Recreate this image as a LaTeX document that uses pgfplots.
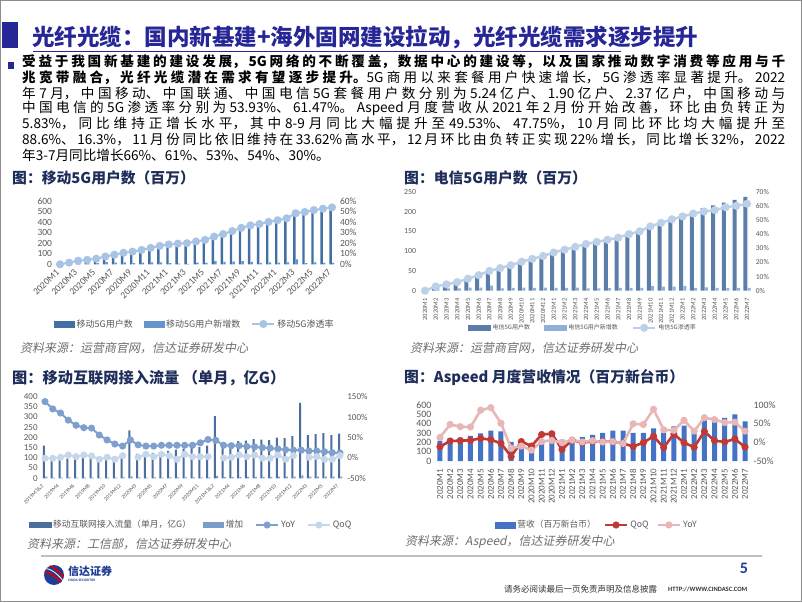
\documentclass[border=0pt]{standalone}
\usepackage{pgfplots}
\usepackage{pgfplotstable}
\pgfplotsset{compat=1.18}
\usepackage{fontspec}
\setmainfont{Carlito}
\newfontfamily\cjk{Noto Sans CJK SC}
\newfontfamily\cjkit[FakeSlant=0.2]{Noto Sans CJK SC}
\definecolor{navyT}{RGB}{38,38,150}
\definecolor{ftitle}{RGB}{30,45,90}
\definecolor{tickgray}{RGB}{89,89,89}
\definecolor{srcgray}{RGB}{110,110,110}
\definecolor{aDark}{RGB}{66,112,164}
\definecolor{aLight}{RGB}{100,150,205}
\definecolor{aLine}{RGB}{168,195,228}
\definecolor{bDark}{RGB}{90,126,168}
\definecolor{bLight}{RGB}{143,176,216}
\definecolor{bLine}{RGB}{188,208,234}
\definecolor{cDark}{RGB}{75,110,158}
\definecolor{cLight}{RGB}{123,156,201}
\definecolor{cYoY}{RGB}{127,160,207}
\definecolor{cQoQ}{RGB}{198,214,235}
\definecolor{dBar}{RGB}{68,114,196}
\definecolor{dQoQ}{RGB}{192,57,53}
\definecolor{dYoY}{RGB}{232,182,182}
\definecolor{logoblue}{RGB}{30,60,150}

\pgfplotsset{
  base/.style={scale only axis, axis line style={draw=none}, tick style={draw=none},
    ticklabel style={text=tickgray}, clip=false, enlargelimits=false,
    /pgf/number format/assume math mode=true},
  linelegend/.style={legend image code/.code={\draw[mark repeat=2,mark phase=2,##1] plot coordinates {(0pt,0pt) (11pt,0pt) (22pt,0pt)};}},
  barleg/.style n args={3}{legend image code/.code={\fill[#1] (0pt,-#3) rectangle (#2,#3);}},
}

\pgfplotstableread{
u n p
0 0 0
15.4 15.4 1.6
31.7 16.3 3.4
39.4 7.7 4.2
49.8 10.4 5.3
70.2 20.4 7.4
85.6 15.4 9.1
103.4 17.8 10.9
113.6 10.2 12.0
129.1 15.5 13.6
147.4 18.3 15.6
165.4 18.0 17.5
177.6 12.2 18.8
185.0 7.4 19.6
189.3 4.3 20.0
205.9 16.6 21.6
220.4 14.5 23.1
250.9 30.5 26.3
274.6 23.7 28.7
300.8 26.2 31.5
331.0 30.2 34.5
354.4 23.4 36.9
367.7 13.3 38.2
386.8 19.1 40.2
403.3 16.5 41.8
420.8 17.5 43.6
467.3 46.5 48.4
479.5 12.2 49.6
498.1 18.6 51.4
511.0 12.9 52.7
524.0 13.0 53.9
}\mobile

\pgfplotstableread{
u n p
0 0 0
10.7 10.7 3.0
16.6 5.9 4.5
22.3 5.7 6.0
30.3 8.0 8.5
37.8 7.5 11.0
50.5 12.7 14.0
56.5 6.0 16.0
63.6 7.1 18.0
71.5 7.9 20.5
78.6 7.1 22.5
86.5 7.9 24.5
93.6 7.1 27.0
100.6 7.0 29.0
108.5 7.9 31.0
114.6 6.1 33.0
120.7 6.1 34.5
127.3 6.6 36.0
134.2 6.9 37.5
141.6 7.4 40.0
148.5 6.9 42.0
160.5 12.0 45.5
170.5 10.0 48.0
180.5 10.0 50.5
192.6 12.1 52.5
200.0 7.4 54.5
208.6 8.6 56.0
215.5 6.9 57.0
222.6 7.1 59.0
229.5 6.9 60.0
236.8 7.3 61.5
}\telecom

\pgfplotstableread{
t inc yoy qoq
160 8 138 -1
90 3 120 -1
93 3 110 1.4
97 4 92.5 7
99 3 80 3
101 3 74 7
103 3 73 4.7
101 2 56 -3.5
104 3 44 1.4
106 3 34 -3.5
112 5 29 5.5
235 10 44 nan
120 4 32 1.4
118 3 29 8.8
125 4 29 3
127 3 31 8.8
135 4 31 5.5
140 4 31 -3.5
145 4 31 8.8
148 4 31 3
153 4 37 3
160 5 45 3
305 12 43 nan
160 6 31 0
165 6 30 1.4
182 7 30 7
185 7 28 3
192 7 27 7
190 7 25 -1
187 7 24 -1
200 8 22 7
197 8 20 -3.5
207 8 19 5.5
370 14 19 nan
212 8 17 1.4
216 8 17 3
221 8 15 -3.5
212 8 13 -3.5
219 8 12 5.5
}\traffic

\pgfplotstableread{
r q y
215 -11.6 13
240 3.6 48
250 4.5 42
270 5.4 41
297 10.7 86
325 7 93
318 -2.7 51
205 -38 -16
210 2 -10
190 -10 -21
232 21 2
285 23 5
230 -19 -1
243 5.8 6
255 -1 1
280 3 4.5
300 2 1
325 2 2
325 -3 -3
300 -11 49.5
300 -1 47.8
350 16.3 88.6
305 -14 33.6
370 22 32
380 -1 59
300 -13 30
445 29 66
420 4.5 61
462 1 53
500 9 54
425 -12.5 30
}\aspeed

\newcommand{\bodyline}[2]{\node[anchor=west,inner sep=0pt] at (22,#1) {\parbox{763pt}{\cjk\fontsize{13.6}{15}\selectfont\XeTeXlinebreaklocale "zh"\XeTeXlinebreakskip=0pt plus 10pt\parfillskip=0pt\relax #2\par}};}
\newcommand{\months}{2020M1,2020M2,2020M3,2020M4,2020M5,2020M6,2020M7,2020M8,2020M9,2020M10,2020M11,2020M12,2021M1,2021M2,2021M3,2021M4,2021M5,2021M6,2021M7,2021M8,2021M9,2021M10,2021M11,2021M12,2022M1,2022M2,2022M3,2022M4,2022M5,2022M6,2022M7}

\begin{document}
\begin{tikzpicture}[x=1pt,y=1pt]
\useasboundingbox (0,0) rectangle (802,602);
\fill[white] (0,0) rectangle (802,602);
\draw[black!45, line width=1.2pt] (0.6,0.6) rectangle (801.4,601.4);

% header
\fill[navyT] (2,554) rectangle (18,580);
\node[anchor=west,inner sep=0pt,text=navyT] at (32,565) {\cjk\bfseries\fontsize{22.5}{24}\selectfont 光纤光缆：国内新基建+海外固网建设拉动，光纤光缆需求逐步提升};
\draw[navyT, line width=0.8pt] (33,551) -- (621,551);
\fill[navyT] (8,533) rectangle (14,540);
\bodyline{540}{\bfseries 受益于我国新基建的建设发展，5G网络的不断覆盖，数据中心的建设等，以及国家推动数字消费等应用与千}
\bodyline{524.5}{{\bfseries 兆宽带融合，光纤光缆潜在需求有望逐步提升。}5G商用以来套餐用户快速增长，5G渗透率显著提升。 2022}
\bodyline{509}{年7月，中国移动、中国联通、中国电信5G套餐用户数分别为5.24亿户、1.90亿户、2.37亿户，中国移动与}
\bodyline{493.5}{中国电信的5G渗透率分别为53.93\%、61.47\%。 Aspeed 月度营收从2021年2月份开始改善，环比由负转正为}
\bodyline{478}{5.83\%，同比维持正增长水平，其中8-9月同比大幅提升至49.53\%、47.75\%，10月同比环比均大幅提升至}
\bodyline{462.5}{88.6\%、16.3\%，11月份同比依旧维持在33.62\%高水平，12月环比由负转正实现22\%增长，同比增长32\%，2022}
\node[anchor=west,inner sep=0pt] at (22,447) {\cjk\fontsize{13.6}{15}\selectfont 年3-7月同比增长66\%、61\%、53\%、54\%、30\%。};

% chart titles and sources
\node[anchor=west,inner sep=0pt,text=ftitle] at (12,424) {\cjk\bfseries\fontsize{14.8}{16}\selectfont 图：移动5G用户数（百万）};
\node[anchor=west,inner sep=0pt,text=ftitle] at (404,424) {\cjk\bfseries\fontsize{14.8}{16}\selectfont 图：电信5G用户数（百万）};
\node[anchor=west,inner sep=0pt,text=ftitle] at (12,224) {\cjk\bfseries\fontsize{15.2}{16}\selectfont 图：移动互联网接入流量 （单月，亿G）};
\node[anchor=west,inner sep=0pt,text=ftitle] at (404,224) {\cjk\bfseries\fontsize{14.8}{16}\selectfont 图：Aspeed 月度营收情况（百万新台币）};
\node[anchor=west,inner sep=0pt,text=srcgray] at (20,254) {\cjkit\fontsize{12}{13}\selectfont 资料来源：运营商官网，信达证券研发中心};
\node[anchor=west,inner sep=0pt,text=srcgray] at (410,254) {\cjkit\fontsize{12}{13}\selectfont 资料来源：运营商官网，信达证券研发中心};
\node[anchor=west,inner sep=0pt,text=srcgray] at (27,58) {\cjkit\fontsize{12}{13}\selectfont 资料来源：工信部，信达证券研发中心};
\node[anchor=west,inner sep=0pt,text=srcgray] at (405,60) {\cjkit\fontsize{12}{13}\selectfont 资料来源：Aspeed，信达证券研发中心};

% ---------- chart 1 ----------
\begin{axis}[base, at={(55.5pt,337.7pt)}, anchor=south west, width=281pt, height=63.3pt,
  xmin=-0.5, xmax=30.5, ymin=0, ymax=600, ybar, bar width=2.4pt,
  ytick={0,100,200,300,400,500,600}, yticklabels={0,100,200,300,400,500,600},
  yticklabel style={font=\fontsize{9.5}{10}\selectfont},
  xtick={0,2,...,30},
  xticklabels={2020M1,2020M3,2020M5,2020M7,2020M9,2020M11,2021M1,2021M3,2021M5,2021M7,2021M9,2021M11,2022M1,2022M3,2022M5,2022M7},
  xticklabel style={rotate=45, anchor=east, font=\fontsize{9.5}{10}\selectfont}]
\addplot[fill=aDark, draw=none, bar shift=-1.3pt] table[x expr=\coordindex, y=u] {\mobile};
\addplot[fill=aLight, draw=none, bar shift=1.3pt] table[x expr=\coordindex, y=n] {\mobile};
\end{axis}
\begin{axis}[base, at={(55.5pt,337.7pt)}, anchor=south west, width=281pt, height=63.3pt,
  xmin=-0.5, xmax=30.5, ymin=0, ymax=60, xtick=\empty, yticklabel pos=right,
  ytick={0,10,20,30,40,50,60}, yticklabels={0\%,10\%,20\%,30\%,40\%,50\%,60\%},
  yticklabel style={font=\fontsize{9.5}{10}\selectfont},
  legend columns=-1,
  legend style={at={(0.496,-0.943)}, anchor=center, draw=none, fill=none, inner sep=0pt,
    font=\cjk\fontsize{9}{10}\selectfont, text=tickgray,
    /tikz/every even column/.append style={column sep=9pt}}]
\addlegendimage{barleg={aDark}{20pt}{3pt}}
\addlegendentry{移动5G用户数}
\addlegendimage{barleg={aLight}{20pt}{3pt}}
\addlegendentry{移动5G用户新增数}
\addplot[aLine, line width=2pt, mark=*, mark size=3pt, mark options={fill=aLine, draw=aLine}, linelegend] table[x expr=\coordindex, y=p] {\mobile};
\addlegendentry{移动5G渗透率}
\end{axis}

% ---------- chart 2 ----------
\begin{axis}[base, at={(419.6pt,311.3pt)}, anchor=south west, width=332.8pt, height=99pt,
  xmin=-0.5, xmax=30.5, ymin=0, ymax=250, ybar,
  ytick={0,50,100,150,200,250}, yticklabels={0,50,100,150,200,250},
  yticklabel style={font=\fontsize{7.8}{8}\selectfont},
  xtick={0,...,30}, xticklabels/.expanded={\months},
  xticklabel style={rotate=90, anchor=east, font=\fontsize{6.5}{7}\selectfont}]
\addplot[fill=bDark, draw=none, bar width=4pt, bar shift=-1.6pt] table[x expr=\coordindex, y=u] {\telecom};
\addplot[fill=bLight, draw=none, bar width=3pt, bar shift=2.2pt] table[x expr=\coordindex, y=n] {\telecom};
\end{axis}
\begin{axis}[base, at={(419.6pt,311.3pt)}, anchor=south west, width=332.8pt, height=99pt,
  xmin=-0.5, xmax=30.5, ymin=0, ymax=70, xtick=\empty, yticklabel pos=right,
  ytick={0,10,20,30,40,50,60,70}, yticklabels={0\%,10\%,20\%,30\%,40\%,50\%,60\%,70\%},
  yticklabel style={font=\fontsize{7.5}{8}\selectfont},
  legend columns=-1,
  legend style={at={(0.491,-0.375)}, anchor=center, draw=none, fill=none, inner sep=0pt,
    font=\cjk\fontsize{6}{7}\selectfont, text=tickgray,
    /tikz/every even column/.append style={column sep=12pt}}]
\addlegendimage{barleg={bDark}{22pt}{2.5pt}}
\addlegendentry{电信5G用户数}
\addlegendimage{barleg={bLight}{22pt}{2.5pt}}
\addlegendentry{电信5G用户新增数}
\addplot[bLine, line width=2.4pt, mark=*, mark size=2.8pt, mark options={fill=bLine, draw=bLine}, linelegend] table[x expr=\coordindex, y=p] {\telecom};
\addlegendentry{电信5G渗透率}
\end{axis}

% ---------- chart 3 ----------
\begin{axis}[base, at={(41.1pt,123.7pt)}, anchor=south west, width=302.8pt, height=81.6pt,
  xmin=-0.5, xmax=38.5, ymin=0, ymax=400, ybar,
  ytick={0,50,100,150,200,250,300,350,400}, yticklabels={0,50,100,150,200,250,300,350,400},
  yticklabel style={font=\fontsize{9}{10}\selectfont},
  xtick={0,2,...,38},
  xticklabels={2019M1\&2,2019M4,2019M6,2019M8,2019M10,2019M12,2020M3,2020M5,2020M7,2020M9,2020M11,2021M1\&2,2021M4,2021M6,2021M8,2021M10,2021M12,2022M3,2022M5,2022M7},
  xticklabel style={rotate=45, anchor=east, font=\fontsize{5.5}{6}\selectfont}]
\addplot[fill=cDark, draw=none, bar width=2pt, bar shift=-1pt] table[x expr=\coordindex, y=t] {\traffic};
\addplot[fill=cLight, draw=none, bar width=2pt, bar shift=1.3pt] table[x expr=\coordindex, y=inc] {\traffic};
\end{axis}
\begin{axis}[base, at={(41.1pt,123.7pt)}, anchor=south west, width=302.8pt, height=81.6pt,
  xmin=-0.5, xmax=38.5, ymin=-50, ymax=150, xtick=\empty, yticklabel pos=right,
  ytick={-50,0,50,100,150}, yticklabels={-50\%,0\%,50\%,100\%,150\%},
  yticklabel style={font=\fontsize{9}{10}\selectfont},
  unbounded coords=jump,
  legend columns=-1,
  legend style={at={(0.495,-0.572)}, anchor=center, draw=none, fill=none, inner sep=0pt,
    font=\cjk\fontsize{8.8}{10}\selectfont, text=tickgray,
    /tikz/every even column/.append style={column sep=10pt}}]
\addlegendimage{barleg={cDark}{22pt}{2.5pt}}
\addlegendentry{移动互联网接入流量（单月，亿G）}
\addlegendimage{barleg={cLight}{20pt}{2.5pt}}
\addlegendentry{增加}
\addplot[cYoY, line width=2pt, mark=*, mark size=2.5pt, mark options={fill=cYoY, draw=cYoY}, linelegend] table[x expr=\coordindex, y=yoy] {\traffic};
\addlegendentry{YoY}
\addplot[cQoQ, line width=2pt, mark=*, mark size=2.5pt, mark options={fill=cQoQ, draw=cQoQ}, linelegend] table[x expr=\coordindex, y=qoq] {\traffic};
\addlegendentry{QoQ}
\end{axis}

% ---------- chart 4 ----------
\begin{axis}[base, at={(434.9pt,141pt)}, anchor=south west, width=315.2pt, height=56pt,
  xmin=-0.5, xmax=30.5, ymin=0, ymax=600, ybar,
  ytick={0,100,200,300,400,500,600}, yticklabels={0,100,200,300,400,500,600},
  yticklabel style={font=\fontsize{9.8}{10}\selectfont},
  xtick={0,...,30}, xticklabels/.expanded={\months},
  xticklabel style={rotate=90, anchor=east, font=\fontsize{9}{9}\selectfont}]
\addplot[fill=dBar, draw=none, bar width=5pt] table[x expr=\coordindex, y=r] {\aspeed};
\end{axis}
\begin{axis}[base, at={(434.9pt,141pt)}, anchor=south west, width=315.2pt, height=56pt,
  xmin=-0.5, xmax=30.5, ymin=-50, ymax=100, xtick=\empty, yticklabel pos=right,
  ytick={-50,0,50,100}, yticklabels={-50\%,0\%,50\%,100\%},
  yticklabel style={font=\fontsize{9.8}{10}\selectfont},
  legend columns=-1,
  legend style={at={(0.514,-1.143)}, anchor=center, draw=none, fill=none, inner sep=0pt,
    font=\cjk\fontsize{8.7}{10}\selectfont, text=tickgray,
    /tikz/every even column/.append style={column sep=6pt}}]
\addlegendimage{barleg={dBar}{20pt}{3pt}}
\addlegendentry{营收（百万新台币）}
\addplot[dQoQ, line width=2.6pt, mark=*, mark size=2.2pt, mark options={fill=dQoQ, draw=dQoQ}, linelegend] table[x expr=\coordindex, y=q] {\aspeed};
\addlegendentry{QoQ}
\addplot[dYoY, line width=2.6pt, mark=*, mark size=2.2pt, mark options={fill=dYoY, draw=dYoY}, linelegend] table[x expr=\coordindex, y=y] {\aspeed};
\addlegendentry{YoY}
\end{axis}

% footer
\draw[black!25, line width=1.5pt] (41,46) -- (762,46);
\begin{scope}
\clip (54,27) circle (10);
\fill[logoblue] (43,16) rectangle (65,38);
\draw[red!85!black, line width=1.8pt] (42,30) .. controls (50,31) and (58,24) .. (66,14);
\draw[red!85!black, line width=1.8pt] (44,37) .. controls (52,38) and (60,30) .. (67,20);
\draw[white, line width=0.8pt] (43,33.5) .. controls (51,34.5) and (59,27) .. (66.5,17);
\end{scope}
\node[anchor=west,inner sep=0pt,text=logoblue] at (68,31) {\cjk\bfseries\fontsize{11}{12}\selectfont 信达证券};
\node[anchor=west,inner sep=0pt,text=logoblue] at (68,22) {\bfseries\fontsize{3.6}{4}\selectfont CINDA SECURITIES};
\node[inner sep=0pt,text=logoblue] at (744,34) {\bfseries\fontsize{16}{16}\selectfont 5};
\node[anchor=west,inner sep=0pt,text=black!80] at (504,13) {\cjk\fontsize{8.5}{9}\selectfont 请务必阅读最后一页免责声明及信息披露};
\node[anchor=west,inner sep=0pt,text=black!80] at (668,13) {\bfseries\fontsize{6.5}{7}\selectfont HTTP://WWW.CINDASC.COM};
\end{tikzpicture}
\end{document}
